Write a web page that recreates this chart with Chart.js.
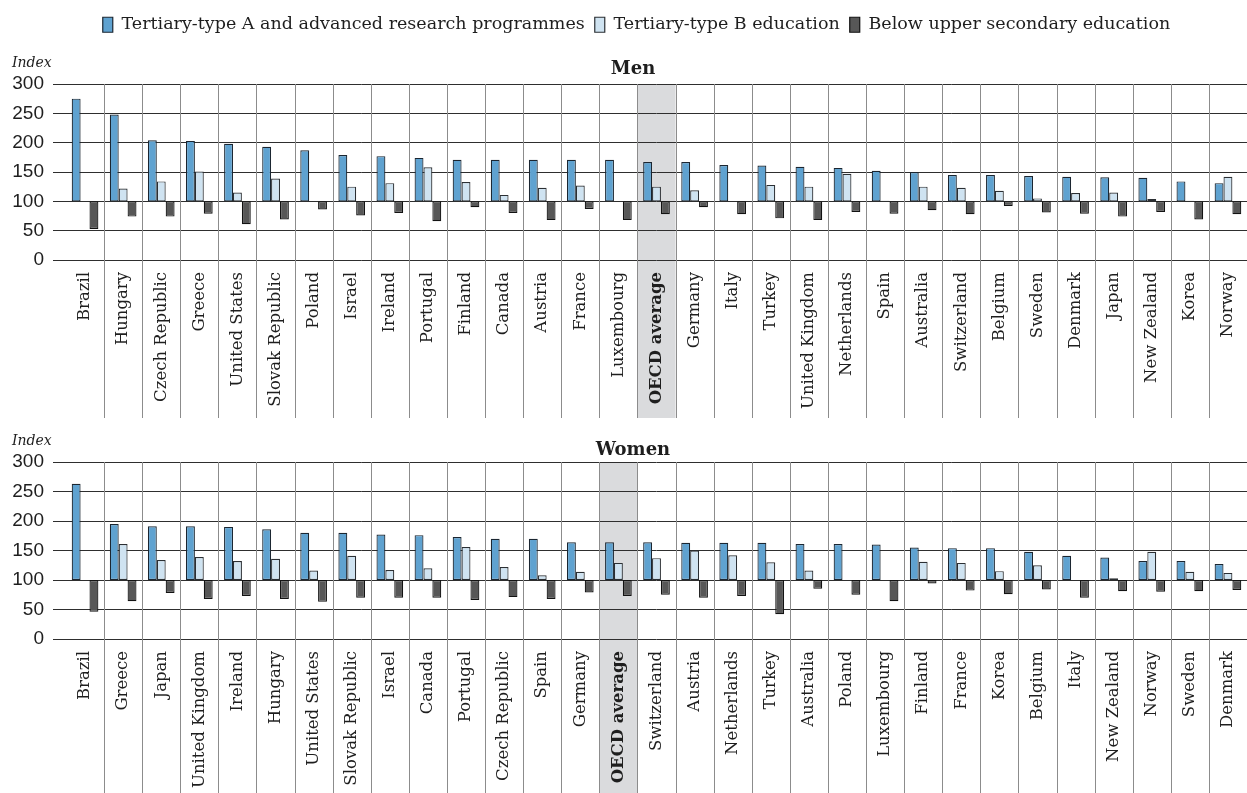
<!DOCTYPE html>
<html>
<head>
<meta charset="utf-8">
<title>Relative earnings by educational attainment</title>
<script src="https://cdn.jsdelivr.net/npm/chart.js@4/dist/chart.umd.min.js"></script>
<style>
  html, body { margin: 0; padding: 0; background: #ffffff; }
  #wrap { position: relative; width: 1247px; height: 793px; overflow: hidden; }
  canvas { position: absolute; left: 0; display: block; }
  #men { top: 0; }
  #women { top: 420px; }
</style>
</head>
<body>
<div id="wrap">
  <canvas id="men" width="1247" height="420"></canvas>
  <canvas id="women" width="1247" height="373"></canvas>
</div>
<script>
// ---- Data: earnings index (upper secondary = 100) ----
const menCountries = ['Brazil','Hungary','Czech Republic','Greece','United States','Slovak Republic','Poland','Israel','Ireland','Portugal','Finland','Canada','Austria','France','Luxembourg','OECD average','Germany','Italy','Turkey','United Kingdom','Netherlands','Spain','Australia','Switzerland','Belgium','Sweden','Denmark','Japan','New Zealand','Korea','Norway'];
const menTertiaryA   = [275,248,204,203,198,193,187,179,177,174,171,171,171,171,171,167,167,162,161,159,157,152,150,145,145,143,142,141,140,134,131];
const menTertiaryB   = [null,122,134,151,115,139,null,125,131,158,133,111,123,127,null,125,119,null,128,125,147,101,125,123,118,105,114,115,104,101,142];
const menBelowUpper  = [53,74,74,79,61,69,86,76,80,66,90,80,68,87,68,78,90,78,71,68,82,79,85,78,92,81,79,74,82,69,78];

const womenCountries = ['Brazil','Greece','Japan','United Kingdom','Ireland','Hungary','United States','Slovak Republic','Israel','Canada','Portugal','Czech Republic','Spain','Germany','OECD average','Switzerland','Austria','Netherlands','Turkey','Australia','Poland','Luxembourg','Finland','France','Korea','Belgium','Italy','New Zealand','Norway','Sweden','Denmark'];
const womenTertiaryA  = [263,195,191,191,190,186,180,180,177,176,173,170,170,164,164,164,163,163,163,161,161,160,155,154,154,148,141,138,132,132,127];
const womenTertiaryB  = [null,161,134,139,132,136,116,141,117,120,156,122,108,114,129,137,150,142,130,116,null,null,131,129,115,125,null,103,148,114,112];
const womenBelowUpper = [46,64,78,68,73,68,63,70,70,70,66,71,68,79,73,75,70,73,42,85,75,64,94,82,76,84,70,81,80,81,83];

const yTicks = [0, 50, 100, 150, 200, 250, 300];
const BASE = 100;
const AVERAGE_LABEL = 'OECD average';

// ---- Styling ----
const SERIF = '"DejaVu Serif", "Liberation Serif", serif';
const SANS = '"Liberation Sans", Arial, sans-serif';
const INK = '#1e1e1e';
const seriesStyle = [
  { label: 'Tertiary-type A and advanced research programmes', fill: '#5fa2d0', border: '#1b2631' },
  { label: 'Tertiary-type B education', fill: '#cfe3f1', border: '#2b2f33' },
  { label: 'Below upper secondary education', fill: '#575757', border: '#121212' }
];

// floating bars that start at the base index of 100
const fromBase = arr => arr.map(v => (v == null ? null : [BASE, v]));

function makeDatasets(a, b, c) {
  return [a, b, c].map((vals, i) => ({
    label: seriesStyle[i].label,
    data: fromBase(vals),
    backgroundColor: seriesStyle[i].fill,
    borderColor: seriesStyle[i].border,
    borderWidth: 1.2,
    borderSkipped: false,
    categoryPercentage: 0.7,
    barPercentage: 1.0
  }));
}

// Shaded column behind the average, separators between countries, captions
const panelDecor = {
  id: 'panelDecor',
  beforeDraw(chart) {
    const x = chart.scales.x, area = chart.chartArea, ctx = chart.ctx;
    const idx = chart.data.labels.indexOf(AVERAGE_LABEL);
    if (idx >= 0) {
      const step = x.getPixelForTick(1) - x.getPixelForTick(0);
      const c = x.getPixelForTick(idx);
      ctx.save();
      ctx.fillStyle = '#dadbdd';
      ctx.fillRect(c - step / 2, area.top, step, x.bottom - area.top);
      ctx.restore();
    }
  },
  beforeDatasetsDraw(chart) {
    const x = chart.scales.x, area = chart.chartArea, ctx = chart.ctx;
    const n = chart.data.labels.length;
    ctx.save();
    ctx.strokeStyle = '#8c8c8c';
    ctx.lineWidth = 1;
    ctx.beginPath();
    for (let i = 0; i < n - 1; i++) {
      const px = Math.round((x.getPixelForTick(i) + x.getPixelForTick(i + 1)) / 2) + 0.5;
      ctx.moveTo(px, area.top);
      ctx.lineTo(px, x.bottom);
    }
    ctx.stroke();
    ctx.restore();
  },
  afterDraw(chart, args, opts) {
    const ctx = chart.ctx, area = chart.chartArea;
    ctx.save();
    ctx.fillStyle = INK;
    ctx.textBaseline = 'alphabetic';
    ctx.textAlign = 'left';
    ctx.font = 'italic 14px ' + SERIF;
    ctx.fillText('Index', 12, area.top - 17);
    ctx.textAlign = 'center';
    ctx.font = 'bold 18px ' + SERIF;
    ctx.fillText(opts.title, opts.titleX, area.top - opts.titleGap);
    ctx.restore();
  }
};

// Fixed room reserved for the legend above the plot
const legendRoom = {
  id: 'legendRoom',
  beforeInit(chart, args, opts) {
    const legend = chart.legend;
    if (!legend || !opts.height) return;
    const fit = legend.fit;
    legend.fit = function () { fit.call(this); this.height = opts.height; };
  },
  afterLayout(chart, args, opts) {
    if (chart.legend && opts.shift) {
      chart.legend.left += opts.shift;
      chart.legend.right += opts.shift;
    }
  }
};

function makeChart(canvasId, labels, a, b, c, cfg) {
  return new Chart(document.getElementById(canvasId), {
    type: 'bar',
    data: { labels, datasets: makeDatasets(a, b, c) },
    options: {
      responsive: false,
      animation: false,
      devicePixelRatio: 1,
      layout: { padding: { top: cfg.padTop, bottom: cfg.padBottom, left: 0, right: 0 } },
      plugins: {
        tooltip: { enabled: false },
        title: { display: false },
        legend: {
          display: cfg.legend,
          position: 'top',
          align: 'center',
          labels: {
            boxWidth: 10,
            boxHeight: 15,
            padding: 10,
            color: INK,
            font: { family: SERIF, size: 17.5 }
          }
        },
        legendRoom: { height: cfg.legendHeight, shift: cfg.legendShift },
        panelDecor: { title: cfg.title, titleX: 633, titleGap: cfg.titleGap }
      },
      scales: {
        x: {
          type: 'category',
          offset: true,
          grid: { display: false, drawTicks: false },
          border: { display: false },
          ticks: {
            autoSkip: false,
            minRotation: 90,
            maxRotation: 90,
            padding: 12,
            color: INK,
            font: ctx => ({
              family: SERIF,
              size: 16.5,
              weight: (ctx.tick && ctx.tick.label === AVERAGE_LABEL) ? 'bold' : 'normal'
            })
          },
          afterFit(scale) {
            scale.height = cfg.xHeight;
            scale.paddingLeft = 0;
            scale.paddingRight = 0;
          }
        },
        y: {
          min: 0,
          max: 300,
          afterBuildTicks(scale) { scale.ticks = yTicks.map(v => ({ value: v })); },
          grid: { color: '#2e2e2e', lineWidth: 1, tickLength: 13, drawTicks: true },
          border: { display: false },
          ticks: {
            padding: 9,
            color: INK,
            font: { family: SANS, size: 19 }
          },
          afterFit(scale) { scale.width = 66; }
        }
      }
    },
    plugins: [panelDecor, legendRoom]
  });
}

makeChart('men', menCountries, menTertiaryA, menTertiaryB, menBelowUpper, {
  legend: true, legendHeight: 78, legendShift: 13,
  padTop: 6, padBottom: 2, xHeight: 158,
  title: 'Men', titleGap: 10
});

makeChart('women', womenCountries, womenTertiaryA, womenTertiaryB, womenBelowUpper, {
  legend: false, legendHeight: 0, legendShift: 0,
  padTop: 42, padBottom: 0, xHeight: 154,
  title: 'Women', titleGap: 7
});
</script>
</body>
</html>
